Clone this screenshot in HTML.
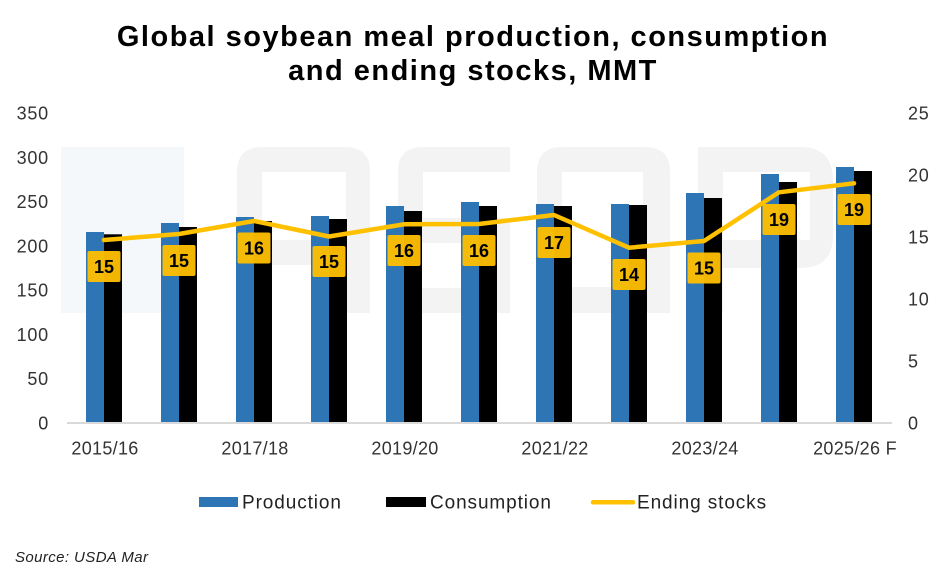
<!DOCTYPE html>
<html><head><meta charset="utf-8"><style>
html,body{margin:0;padding:0;background:#fff;}
svg{display:block;}
</style></head><body>
<svg width="945" height="568" viewBox="0 0 945 568" xmlns="http://www.w3.org/2000/svg">
<rect width="945" height="568" fill="#fff"/>
<!-- watermark -->
<g>
<rect x="61" y="147" width="123" height="166" fill="#f4f8fb"/>
<path d="M237 313 V172 Q237 147 262 147 H345 Q370 147 370 172 V313 Z" fill="#f3f3f3"/>
<rect x="262" y="172" width="84" height="68" fill="#fff"/>
<rect x="262" y="265" width="84" height="48" fill="#fff"/>
<path d="M398 313 V172 Q398 147 423 147 H510 V313 Z" fill="#f3f3f3"/>
<rect x="423" y="172" width="87" height="46" fill="#fff"/>
<rect x="398" y="243" width="87" height="45" fill="#fff"/>
<path d="M537 313 V172 Q537 147 562 147 H645 Q670 147 670 172 V313 Z" fill="#f3f3f3"/>
<rect x="562" y="172" width="81" height="115" fill="#fff"/>
<path d="M698 313 V147 H800 Q833 147 833 180 V236 Q833 268 800 268 H723 V313 Z" fill="#f3f3f3"/>
<rect x="723" y="172" width="87" height="68" fill="#fff"/>
</g>
<!-- title -->
<g font-family="Liberation Sans, sans-serif" font-weight="bold" font-size="29" fill="#000" text-anchor="middle" letter-spacing="1.5">
<text x="473" y="46">Global soybean meal production, consumption</text>
<text x="473" y="80">and ending stocks, MMT</text>
</g>
<!-- bars -->
<g>
<rect x="86" y="232" width="18" height="191" fill="#2e75b6"/><rect x="104" y="234.3" width="18" height="188.7" fill="#000"/>
<rect x="161" y="223" width="18" height="200" fill="#2e75b6"/><rect x="179" y="227" width="18" height="196" fill="#000"/>
<rect x="236" y="217" width="18" height="206" fill="#2e75b6"/><rect x="254" y="221" width="18" height="202" fill="#000"/>
<rect x="311" y="216" width="18" height="207" fill="#2e75b6"/><rect x="329" y="219" width="18" height="204" fill="#000"/>
<rect x="386" y="206" width="18" height="217" fill="#2e75b6"/><rect x="404" y="211" width="18" height="212" fill="#000"/>
<rect x="461" y="202" width="18" height="221" fill="#2e75b6"/><rect x="479" y="206" width="18" height="217" fill="#000"/>
<rect x="536" y="204" width="18" height="219" fill="#2e75b6"/><rect x="554" y="206" width="18" height="217" fill="#000"/>
<rect x="611" y="204" width="18" height="219" fill="#2e75b6"/><rect x="629" y="205" width="18" height="218" fill="#000"/>
<rect x="686" y="193" width="18" height="230" fill="#2e75b6"/><rect x="704" y="198" width="18" height="225" fill="#000"/>
<rect x="761" y="174" width="18" height="249" fill="#2e75b6"/><rect x="779" y="182" width="18" height="241" fill="#000"/>
<rect x="836" y="167" width="18" height="256" fill="#2e75b6"/><rect x="854" y="171" width="18" height="252" fill="#000"/>
</g>
<!-- axis line -->
<rect x="67" y="422" width="825" height="2" fill="#d9d9d9"/>
<!-- line -->
<polyline points="104,240 179,234 254,221 329,236.5 404,224.3 479,224 554,215 629,247.7 704,241 779,192.3 854,183.3" fill="none" stroke="#ffc000" stroke-width="4.5" stroke-linejoin="round" stroke-linecap="round"/>
<!-- labels -->
<g font-family="Liberation Sans, sans-serif" font-weight="bold" font-size="18" fill="#000" text-anchor="middle">
<g fill="#ffc000" opacity="0.95">
<rect x="87.5" y="251" width="33" height="31" rx="2"/>
<rect x="162.5" y="245" width="33" height="31" rx="2"/>
<rect x="237.5" y="232.5" width="33" height="31" rx="2"/>
<rect x="312.5" y="246" width="33" height="31" rx="2"/>
<rect x="387.5" y="235" width="33" height="31" rx="2"/>
<rect x="462.5" y="235" width="33" height="31" rx="2"/>
<rect x="537.5" y="227" width="33" height="31" rx="2"/>
<rect x="612.5" y="259" width="33" height="31" rx="2"/>
<rect x="687.5" y="252.5" width="33" height="31" rx="2"/>
<rect x="762.5" y="204" width="33" height="31" rx="2"/>
<rect x="837.5" y="194" width="33" height="31" rx="2"/>
</g>
<text x="104" y="273">15</text>
<text x="179" y="267">15</text>
<text x="254" y="254.5">16</text>
<text x="329" y="268">15</text>
<text x="404" y="257">16</text>
<text x="479" y="257">16</text>
<text x="554" y="249">17</text>
<text x="629" y="281">14</text>
<text x="704" y="274.5">15</text>
<text x="779" y="226">19</text>
<text x="854" y="216">19</text>
</g>
<!-- left axis -->
<g font-family="Liberation Sans, sans-serif" font-size="18" fill="#333" text-anchor="end" letter-spacing="0.8">
<text x="49" y="119.5">350</text>
<text x="49" y="163.8">300</text>
<text x="49" y="208.1">250</text>
<text x="49" y="252.4">200</text>
<text x="49" y="296.6">150</text>
<text x="49" y="340.9">100</text>
<text x="49" y="385.2">50</text>
<text x="49" y="429.5">0</text>
</g>
<!-- right axis -->
<g font-family="Liberation Sans, sans-serif" font-size="18" fill="#333" text-anchor="start" letter-spacing="0.8">
<text x="908" y="119.5">25</text>
<text x="908" y="181.5">20</text>
<text x="908" y="243.5">15</text>
<text x="908" y="305.5">10</text>
<text x="908" y="367.5">5</text>
<text x="908" y="429.5">0</text>
</g>
<!-- x labels -->
<g font-family="Liberation Sans, sans-serif" font-size="18" fill="#333" text-anchor="middle" letter-spacing="0.3">
<text x="105" y="454.5">2015/16</text>
<text x="255" y="454.5">2017/18</text>
<text x="405" y="454.5">2019/20</text>
<text x="555" y="454.5">2021/22</text>
<text x="705" y="454.5">2023/24</text>
<text x="855" y="454.5">2025/26 F</text>
</g>
<!-- legend -->
<rect x="199" y="497" width="39" height="10" fill="#2e75b6"/>
<rect x="386" y="497" width="40" height="10" fill="#000"/>
<line x1="593" y1="502.3" x2="633" y2="502.3" stroke="#ffc000" stroke-width="4.5" stroke-linecap="round"/>
<g font-family="Liberation Sans, sans-serif" font-size="19" fill="#222" letter-spacing="0.9">
<text x="242" y="508.5">Production</text>
<text x="430" y="508.5">Consumption</text>
<text x="637" y="508.5">Ending stocks</text>
</g>
<!-- source -->
<text x="15" y="562" font-family="Liberation Sans, sans-serif" font-size="15" font-style="italic" fill="#222" letter-spacing="0.4">Source: USDA Mar</text>
</svg>
</body></html>
